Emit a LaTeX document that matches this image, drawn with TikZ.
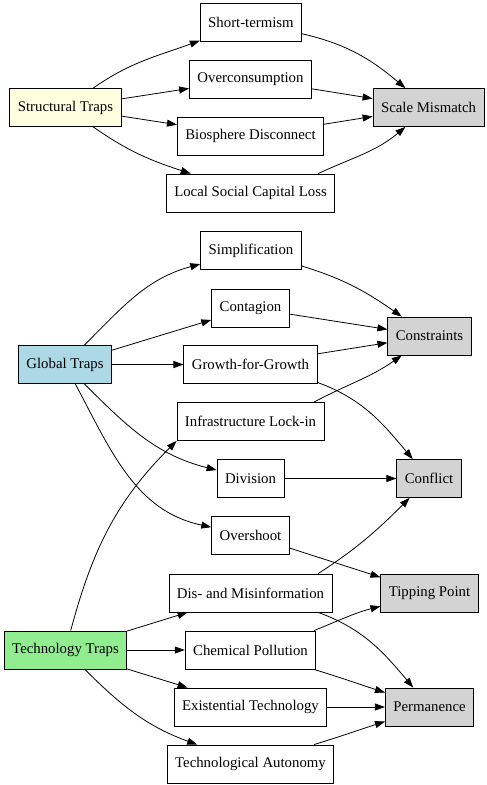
\documentclass[tikz,border=0pt]{standalone}
\usepackage{fontspec}
\setmainfont{Liberation Serif}
\usepackage{xcolor}
\usetikzlibrary{arrows.meta}

\definecolor{lightyellow}{HTML}{FFFFE0}
\definecolor{lightblue}{HTML}{ADD8E6}
\definecolor{lightgreen}{HTML}{90EE90}
\definecolor{lightgrey}{HTML}{D3D3D3}

\begin{document}
\begin{tikzpicture}[x=1pt,y=1pt,
    box/.style={draw=black,line width=0.8pt,rectangle,minimum height=38pt,
        inner xsep=8pt,font=\fontsize{14.8}{17}\selectfont},
    trap/.style={box},
    outcome/.style={box,fill=lightgrey},
    flow/.style={-{Triangle[length=10pt,width=7pt]},line width=0.8pt}]
    \useasboundingbox (0,0) rectangle (487,-785);

    % Sources
    \node[trap,fill=lightyellow] (struct) at (65.5,-107.5) {Structural Traps};
    \node[trap,fill=lightblue]   (global) at (65,-364.5)   {Global Traps};
    \node[trap,fill=lightgreen]  (tech)   at (65.5,-650)   {Technology Traps};

    % Traps
    \node[box] (short)  at (251,-22)    {Short-termism};
    \node[box] (overc)  at (250.5,-79)  {Overconsumption};
    \node[box] (bio)    at (250.5,-136) {Biosphere Disconnect};
    \node[box] (local)  at (250.5,-193) {Local Social Capital Loss};
    \node[box] (simp)   at (251,-250.5) {Simplification};
    \node[box] (cont)   at (250.5,-308) {Contagion};
    \node[box] (growth) at (250.5,-364.5) {Growth-for-Growth};
    \node[box] (infra)  at (250.5,-421.5) {Infrastructure Lock-in};
    \node[box] (div)    at (250.5,-478.5) {Division};
    \node[box] (oversh) at (250.5,-535.5) {Overshoot};
    \node[box] (dis)    at (250.5,-593) {Dis- and Misinformation};
    \node[box] (chem)   at (250.5,-650) {Chemical Pollution};
    \node[box] (exist)  at (250.5,-707) {Existential Technology};
    \node[box] (auto)   at (250.5,-764) {Technological Autonomy};

    % Outcomes
    \node[outcome] (scale)  at (428.5,-107.5) {Scale Mismatch};
    \node[outcome] (constr) at (429.5,-336)   {Constraints};
    \node[outcome] (confl)  at (429,-478.5)   {Conflict};
    \node[outcome] (tip)    at (429.5,-593)   {Tipping Point};
    \node[outcome] (perm)   at (429.5,-707)   {Permanence};

    % Structural traps
    \draw[flow] (struct) to[out=35,in=200] (short);
    \draw[flow] (struct) -- (overc);
    \draw[flow] (struct) -- (bio);
    \draw[flow] (struct) to[out=-35,in=162] (local);
    \draw[flow] (short) to[out=-13,in=140] (scale);
    \draw[flow] (overc) -- (scale);
    \draw[flow] (bio) -- (scale);
    \draw[flow] (local.16) to[out=25,in=-140] (scale);

    % Global traps
    \draw[flow] (global) to[out=45,in=195] (simp);
    \draw[flow] (global) -- (cont);
    \draw[flow] (global) -- (growth);
    \draw[flow] (global) to[out=-45,in=166] (div);
    \draw[flow] (global) to[out=-62,in=168] (oversh);
    \draw[flow] (simp) to[out=-17,in=145] (constr);
    \draw[flow] (cont) -- (constr);
    \draw[flow] (growth) -- (constr);
    \draw[flow] (growth.-15) to[out=-20,in=130] (confl);
    \draw[flow] (infra.17) to[out=28,in=-145] (constr);
    \draw[flow] (div) -- (confl);
    \draw[flow] (oversh) -- (tip);

    % Technology traps
    \draw[flow] (tech) to[out=75,in=-135] (infra.south west);
    \draw[flow] (tech) -- (dis);
    \draw[flow] (tech) -- (chem);
    \draw[flow] (tech) -- (exist);
    \draw[flow] (tech) to[out=-45,in=160] (auto);
    \draw[flow] (dis.16) to[out=33,in=-135] (confl);
    \draw[flow] (dis.-16) to[out=-20,in=130] (perm);
    \draw[flow] (chem.17) to[out=22,in=-165] (tip);
    \draw[flow] (chem) to[out=-17,in=162] (perm);
    \draw[flow] (exist) -- (perm);
    \draw[flow] (auto) to[out=17,in=-162] (perm);
\end{tikzpicture}
\end{document}
